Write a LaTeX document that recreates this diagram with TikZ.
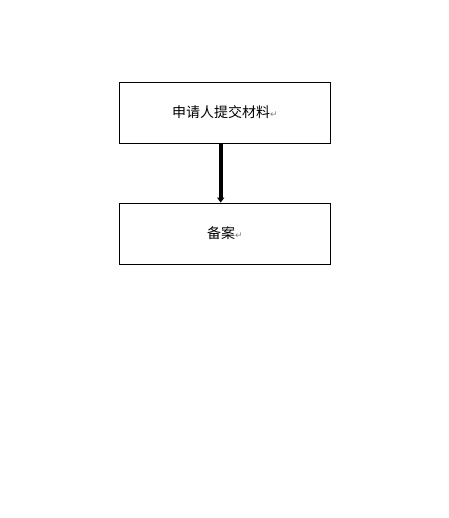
\documentclass[tikz,border=0pt]{standalone}
\usepackage{fontspec}
\newfontfamily\cjk{Noto Sans CJK SC}
\newfontfamily\dejavu{DejaVu Sans}
\usetikzlibrary{arrows.meta}
\tikzset{
  box/.style={draw=black, line width=0.8pt, minimum width=211pt, minimum height=61pt, inner sep=0pt, font=\cjk\fontsize{14}{16}\selectfont},
  flow/.style={line width=4pt, -{Triangle[width=7pt,length=5pt]}},
}
\newcommand{\retmark}{{\dejavu\fontsize{9}{9}\selectfont\color{gray}\raisebox{0.5pt}{↵}}}
\begin{document}
\begin{tikzpicture}[x=1pt,y=-1pt]
\useasboundingbox (0,0) rectangle (448,518);
\node[box] (a) at (225,112.8) {\raisebox{1.5pt}{申请人提交材料\retmark}};
\node[box] (b) at (225,233.5) {\raisebox{1.5pt}{备案\retmark}};
\draw[flow] (a.south -| 220.7,0) -- (b.north -| 220.7,0);
\end{tikzpicture}
\end{document}
